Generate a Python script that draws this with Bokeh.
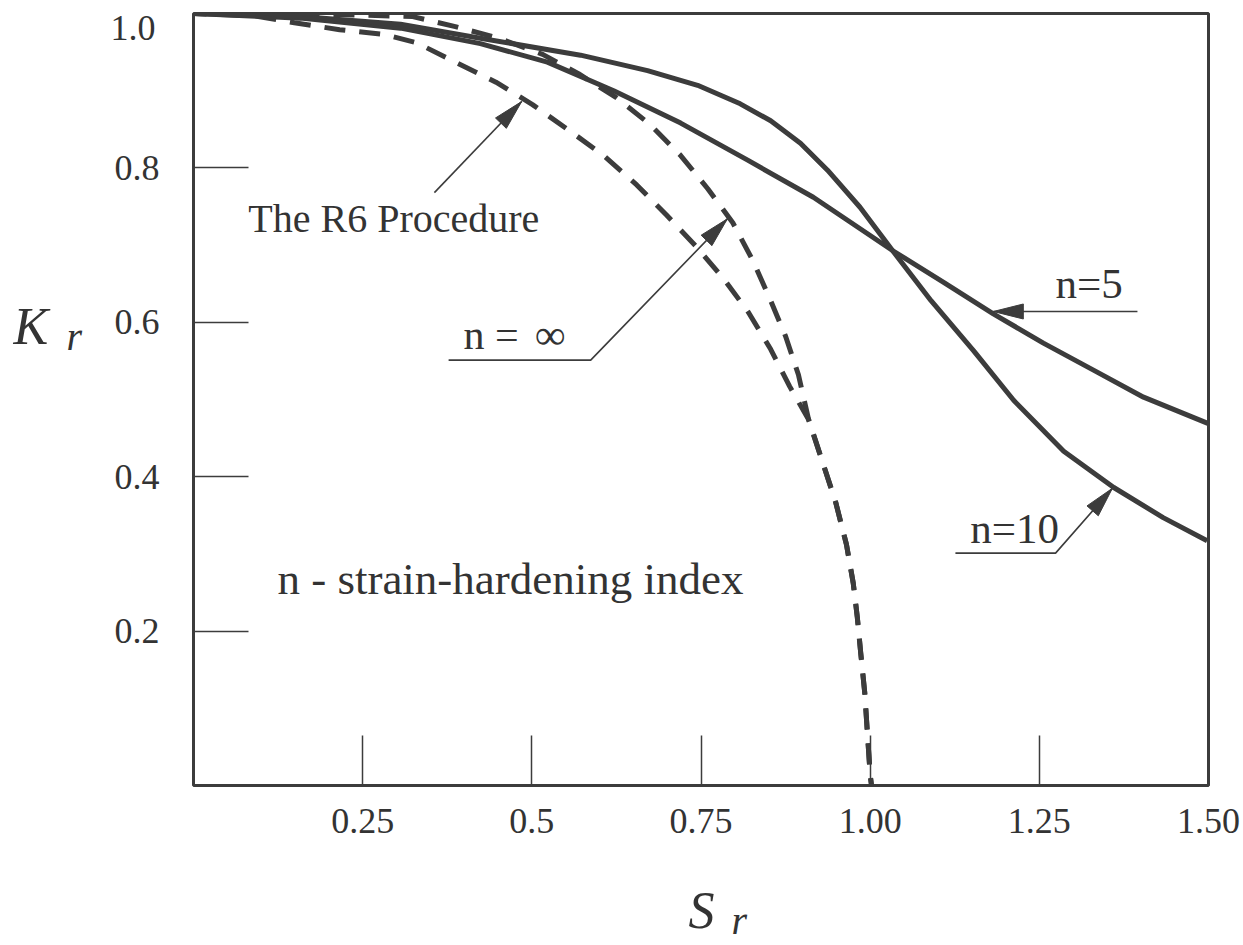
import math

from bokeh.core.properties import value
from bokeh.embed import file_html
from bokeh.layouts import column, row
from bokeh.models import FixedTicker, Label, LinearAxis, Range1d
from bokeh.plotting import figure
from bokeh.resources import INLINE

# ---------------------------------------------------------------------------
# Failure assessment curves: Kr against Sr
# ---------------------------------------------------------------------------
# strain-hardening index n = 5 (solid)
sr_n5 = [0.0, 0.158, 0.306, 0.424, 0.523, 0.621, 0.720, 0.819, 0.916,
         1.033, 1.108, 1.182, 1.256, 1.330, 1.404, 1.499]
kr_n5 = [1.0, 0.994, 0.981, 0.961, 0.937, 0.900, 0.858, 0.810, 0.762,
         0.693, 0.652, 0.611, 0.573, 0.538, 0.503, 0.469]

# strain-hardening index n = 10 (solid)
sr_n10 = [0.0, 0.158, 0.306, 0.424, 0.572, 0.671, 0.745, 0.808, 0.853,
          0.897, 0.937, 0.985, 1.033, 1.090, 1.153, 1.212, 1.286, 1.360,
          1.433, 1.498]
kr_n10 = [1.0, 0.996, 0.986, 0.968, 0.946, 0.926, 0.907, 0.883, 0.861,
          0.832, 0.797, 0.749, 0.693, 0.628, 0.563, 0.499, 0.433, 0.386,
          0.347, 0.317]

# n = infinity, perfectly plastic (dashed)
sr_ninf = [0.0, 0.158, 0.324, 0.387, 0.451, 0.516, 0.569, 0.625, 0.675,
           0.720, 0.760, 0.797, 0.826, 0.851, 0.875, 0.894, 0.909, 0.930,
           0.949, 0.965, 0.975, 0.981, 0.986, 0.992, 0.996, 1.000, 1.002]
kr_ninf = [1.0, 1.0, 0.996, 0.983, 0.968, 0.947, 0.922, 0.891, 0.856,
           0.816, 0.773, 0.729, 0.681, 0.632, 0.582, 0.532, 0.474, 0.418,
           0.367, 0.312, 0.262, 0.218, 0.172, 0.120, 0.067, 0.014, 0.0]

# The R6 Procedure (dashed)
sr_r6 = [0.0, 0.089, 0.149, 0.216, 0.281, 0.330, 0.389, 0.447, 0.501,
         0.556, 0.606, 0.655, 0.699, 0.742, 0.783, 0.820, 0.853, 0.881,
         0.909, 0.930, 0.949, 0.965, 0.975, 0.981, 0.986, 0.992, 0.996,
         1.000, 1.002]
kr_r6 = [1.0, 0.997, 0.988, 0.979, 0.973, 0.962, 0.936, 0.911, 0.882,
         0.848, 0.816, 0.778, 0.739, 0.699, 0.657, 0.613, 0.565, 0.517,
         0.474, 0.418, 0.367, 0.312, 0.262, 0.218, 0.172, 0.120, 0.067,
         0.014, 0.0]

# axis ticks
x_ticks = [0.25, 0.5, 0.75, 1.0, 1.25, 1.5]
x_tick_labels = ["0.25", "0.5", "0.75", "1.00", "1.25", "1.50"]
y_ticks = [0.2, 0.4, 0.6, 0.8]
y_tick_labels = ["0.2", "0.4", "0.6", "0.8"]
# the top label is set just under the frame edge so it stays on the page
y_top_label = "1.0"
y_top_label_at = 0.981

# ---------------------------------------------------------------------------
# page geometry: a narrow strip on the left for the Kr title, the chart,
# and a strip underneath for the Sr title
# ---------------------------------------------------------------------------
W, H = 1243, 945
STRIP_W = 100            # left title strip
STRIP_H = 90             # bottom title strip
MAIN_W = W - STRIP_W
MAIN_H = H - STRIP_H
B_LEFT, B_RIGHT, B_TOP, B_BOTTOM = 93, 35, 13, 70
FRAME_W = MAIN_W - B_LEFT - B_RIGHT
FRAME_H = MAIN_H - B_TOP - B_BOTTOM
X0, X1, Y0, Y1 = 0.0, 1.5, 0.0, 1.0
KX = FRAME_W / (X1 - X0)
KY = FRAME_H / (Y1 - Y0)

INK = "#3c3c3c"
TEXT = "#333333"
SERIF = "Liberation Serif"
TICK_FONT = "36px"

p = figure(width=MAIN_W, height=MAIN_H, output_backend="svg",
           toolbar_location=None,
           x_range=Range1d(X0, X1), y_range=Range1d(Y0, Y1),
           min_border_left=B_LEFT, min_border_right=B_RIGHT,
           min_border_top=B_TOP, min_border_bottom=B_BOTTOM,
           background_fill_color="white", border_fill_color="white")

p.xgrid.visible = False
p.ygrid.visible = False
p.outline_line_color = INK
p.outline_line_width = 3
p.outline_line_alpha = 1.0

# x axis: inward ticks
xa = p.xaxis[0]
xa.ticker = FixedTicker(ticks=x_ticks, minor_ticks=[])
xa.major_label_overrides = {t: s for t, s in zip(x_ticks, x_tick_labels)}
xa.axis_line_color = None
xa.major_tick_in = 50
xa.major_tick_out = 0
xa.minor_tick_in = 0
xa.minor_tick_out = 0
xa.major_tick_line_color = INK
xa.major_tick_line_width = 1.5
xa.major_label_text_font = SERIF
xa.major_label_text_font_size = TICK_FONT
xa.major_label_text_color = TEXT
xa.major_label_standoff = 23

# y axis: inward ticks
ya = p.yaxis[0]
ya.ticker = FixedTicker(ticks=y_ticks, minor_ticks=[])
ya.major_label_overrides = {t: s for t, s in zip(y_ticks, y_tick_labels)}
ya.axis_line_color = None
ya.major_tick_in = 55
ya.major_tick_out = 0
ya.minor_tick_in = 0
ya.minor_tick_out = 0
ya.major_tick_line_color = INK
ya.major_tick_line_width = 1.5
ya.major_label_text_font = SERIF
ya.major_label_text_font_size = TICK_FONT
ya.major_label_text_color = TEXT
ya.major_label_standoff = 34

# label-only axis for the top value; it sits outside the main y axis, so a
# negative standoff pulls its label back in line with the others
top_axis = LinearAxis(
    ticker=FixedTicker(ticks=[y_top_label_at], minor_ticks=[]),
    major_label_overrides={y_top_label_at: y_top_label},
    axis_line_color=None, major_tick_line_color=None,
    major_tick_in=0, major_tick_out=0, minor_tick_in=0, minor_tick_out=0,
    major_label_standoff=-44, major_label_text_font=SERIF,
    major_label_text_font_size=TICK_FONT, major_label_text_color=TEXT)
p.add_layout(top_axis, "left")

# ---------------------------------------------------------------------------
# curves
# ---------------------------------------------------------------------------
p.line(sr_n5, kr_n5, line_color=INK, line_width=5)
p.line(sr_n10, kr_n10, line_color=INK, line_width=5)
p.line(sr_ninf, kr_ninf, line_color=INK, line_width=5, line_dash="21 14")
p.line(sr_r6, kr_r6, line_color=INK, line_width=5, line_dash="21 14",
       line_dash_offset=8)


# ---------------------------------------------------------------------------
# annotation arrows (polyline leader + filled head at the last point)
# ---------------------------------------------------------------------------
def arrow_head(tip, frm, length=30.0, half=7.5):
    tx, ty = tip[0] * KX, tip[1] * KY
    fx, fy = frm[0] * KX, frm[1] * KY
    dx, dy = tx - fx, ty - fy
    d = math.hypot(dx, dy)
    ux, uy = dx / d, dy / d
    bx, by = tx - ux * length, ty - uy * length
    nx, ny = -uy, ux
    pts = [(tx, ty), (bx + nx * half, by + ny * half),
           (bx - nx * half, by - ny * half)]
    return [q[0] / KX for q in pts], [q[1] / KY for q in pts]


leaders = {
    "r6": [(0.356, 0.768), (0.485, 0.886)],
    "ninf": [(0.377, 0.551), (0.587, 0.551), (0.789, 0.734)],
    "n10": [(1.126, 0.301), (1.274, 0.301), (1.358, 0.385)],
    "n5": [(1.395, 0.614), (1.182, 0.614)],
}

lx, ly, hx, hy = [], [], [], []
for pts in leaders.values():
    lx.append([q[0] for q in pts])
    ly.append([q[1] for q in pts])
    xs, ys = arrow_head(pts[-1], pts[-2])
    hx.append(xs)
    hy.append(ys)

p.multi_line(lx, ly, line_color=INK, line_width=1.6)
p.patches(hx, hy, fill_color=INK, line_color=INK, line_width=1)


# ---------------------------------------------------------------------------
# texts inside the chart
# ---------------------------------------------------------------------------
def note(x, y, text, size="43px", style="normal"):
    p.add_layout(Label(x=x, y=y, text=text, text_align="left",
                       text_baseline="alphabetic", text_font=SERIF,
                       text_font_size=size, text_font_style=style,
                       text_color=TEXT))


note(0.081, 0.734, "The R6 Procedure", size="40px")
note(0.399, 0.583, "n = ", size="42px")
note(0.505, 0.583, "\u221e", size="42px", style="italic")
note(1.274, 0.650, "n=5")
note(1.148, 0.333, "n=10")
note(0.124, 0.268, "n - strain-hardening index", size="45px")


# ---------------------------------------------------------------------------
# axis titles in their own strips (strip-local pixels, y downward)
# ---------------------------------------------------------------------------
def strip(width, height):
    f = figure(width=width, height=height, output_backend="svg",
               toolbar_location=None, x_axis_type=None, y_axis_type=None,
               x_range=Range1d(0, width), y_range=Range1d(height, 0),
               min_border=0, outline_line_color=None, title=None,
               background_fill_color="white", border_fill_color="white")
    f.xgrid.visible = False
    f.ygrid.visible = False
    return f


def title_text(f, x, y, text, size):
    f.text(x=[x], y=[y], text=[text], text_font=value(SERIF),
           text_font_size=value(size), text_font_style="italic",
           text_color=TEXT, text_align="left", text_baseline="alphabetic")


p_left = strip(STRIP_W, MAIN_H)
title_text(p_left, 13, 347, "K", "52px")
title_text(p_left, 66, 358, "r", "40px")

p_bottom = strip(W, STRIP_H)
title_text(p_bottom, 688, 55, "S", "52px")
title_text(p_bottom, 731, 65, "r", "40px")

page = column(row(p_left, p, spacing=0), p_bottom, spacing=0)

open("out.html", "w").write(file_html(page, INLINE))
